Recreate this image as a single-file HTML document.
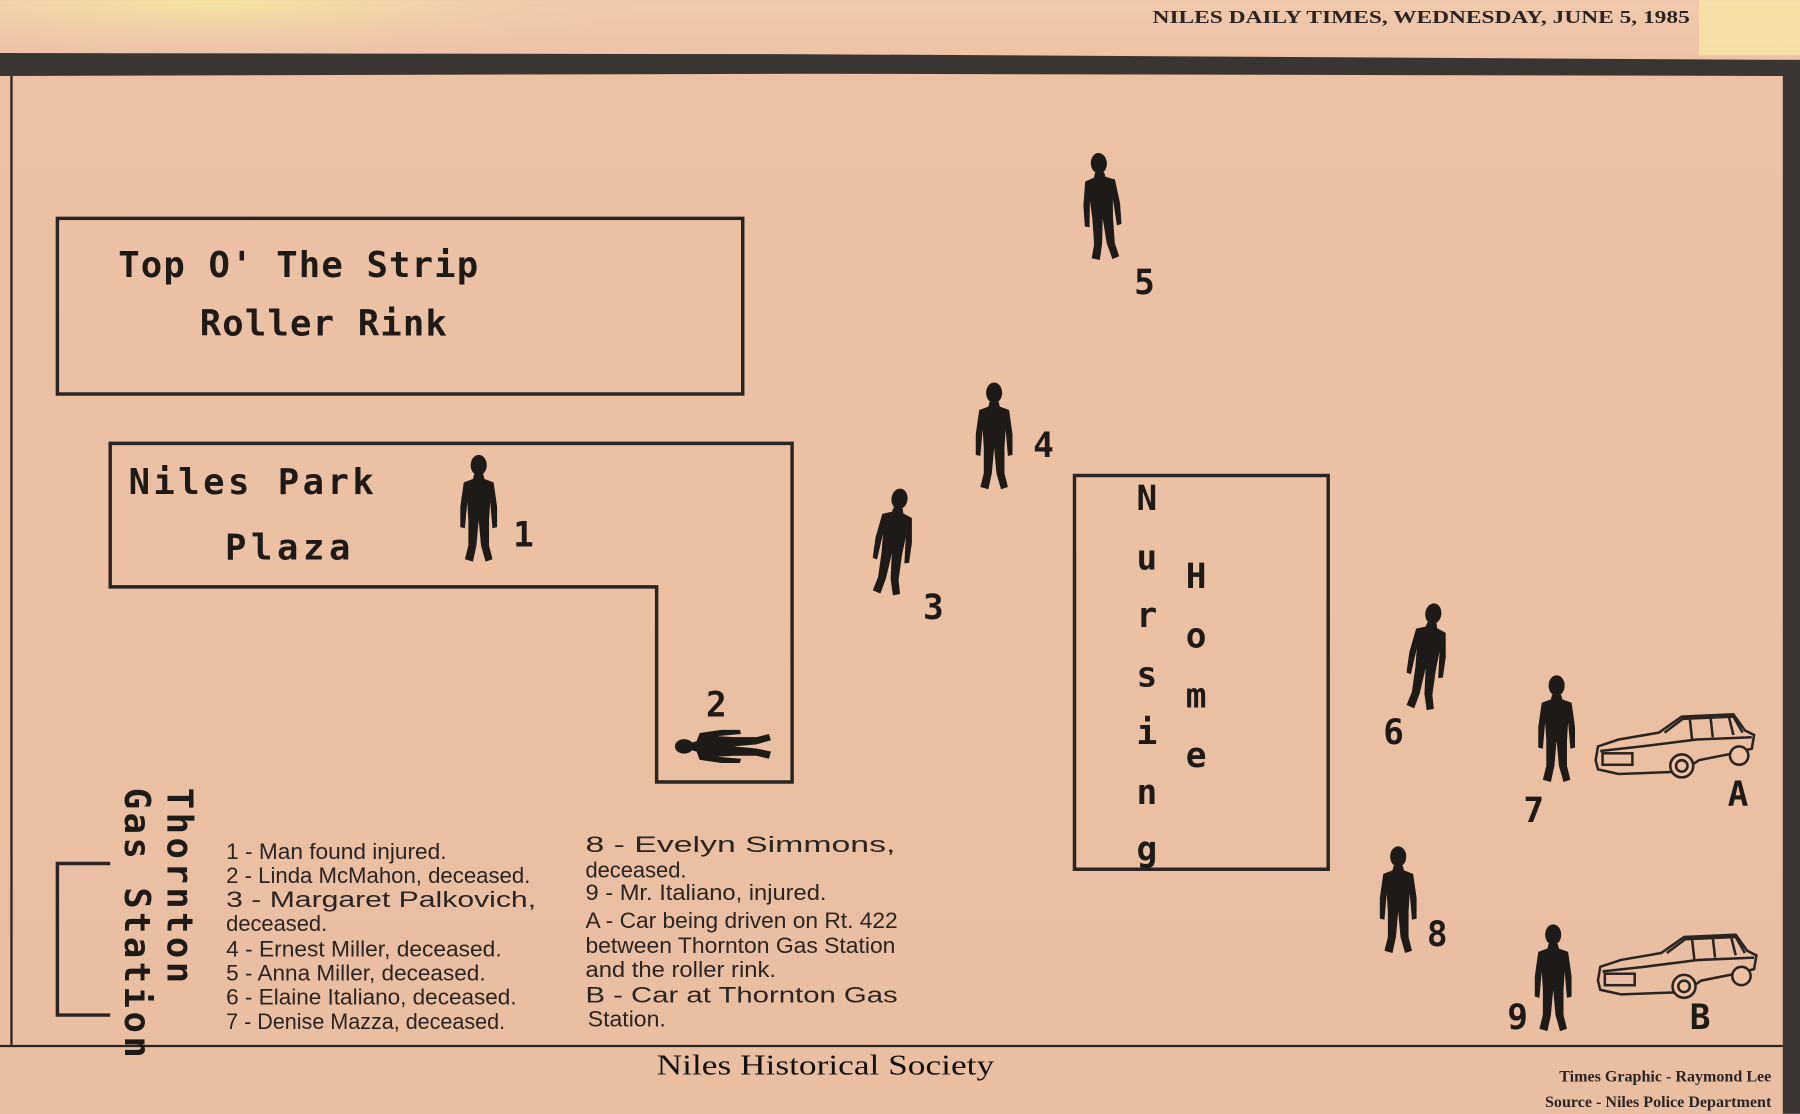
<!DOCTYPE html>
<html><head><meta charset="utf-8"><style>
html,body{margin:0;padding:0;width:1800px;height:1114px;overflow:hidden;background:#ecbfa2}
svg{display:block}
.m{font-family:"DejaVu Sans Mono","Liberation Mono",monospace;fill:#1e1a18;font-weight:bold}
.n{font-family:"Liberation Sans Narrow","Liberation Sans",sans-serif;fill:#2a2422;font-size:19px}
</style></head><body>
<svg width="1800" height="1114" viewBox="0 0 1568 970" xmlns="http://www.w3.org/2000/svg">
<defs>
<linearGradient id="bg" x1="0" y1="0" x2="0" y2="1">
<stop offset="0" stop-color="#f0c9ad"/><stop offset="0.06" stop-color="#edc1a4"/><stop offset="1" stop-color="#eabea1"/></linearGradient>
<radialGradient id="yl" cx="0.12" cy="0" r="0.25"><stop offset="0" stop-color="#f6e7a0"/><stop offset="1" stop-color="#f0c9ad" stop-opacity="0"/></radialGradient>
<g id="p">
<ellipse cx="0" cy="-40" rx="7" ry="9"/>
<path d="M-4,-32 L4,-32 L5,-28 L13,-25 L16,-4 L16,14 L12,15 L10,-8 L9,8 L9,30 L12,42 L6,44 L2,30 L0,8 L-2,30 L-5,44 L-12,42 L-9,30 L-9,8 L-10,-8 L-12,15 L-16,14 L-16,-4 L-13,-25 L-5,-28 Z"/>
</g>
<g id="car" fill="none" stroke="#2a2422" stroke-width="2.2">
<path d="M0,40 L2,28 L20,22 L55,16 L75,2 L120,0 L130,14 L138,18 L136,30 L120,34 L90,40 L75,50 L20,52 L2,48 Z"/>
<path d="M60,16 L76,4 L120,2 L128,16 M82,4 L84,22 M100,2 L102,20 M116,2 L120,18"/>
<path d="M4,32 L40,28 L88,22 L136,20"/>
<rect x="6" y="34" width="26" height="10"/>
<circle cx="75" cy="45" r="10" fill="#eec3a5"/><circle cx="75" cy="45" r="5"/>
<circle cx="125" cy="36" r="8" fill="#eec3a5"/>
</g>
</defs>
<rect width="1568" height="970" fill="url(#bg)"/>
<rect width="1568" height="200" fill="url(#yl)"/>
<rect x="1480" y="0" width="88" height="48" fill="#f7e6a8" opacity="0.8"/>
<text x="1472" y="20" text-anchor="end" font-family="Liberation Serif,serif" font-weight="bold" font-size="16" fill="#2a2422" textLength="468" lengthAdjust="spacingAndGlyphs">NILES DAILY TIMES, WEDNESDAY, JUNE 5, 1985</text>
<path d="M0,46 L700,47 L1568,52 L1568,66 L700,64 L0,66 Z" fill="#3a3532"/>
<rect x="1553" y="60" width="15" height="910" fill="#3a3532"/>
<line x1="10" y1="66" x2="10" y2="910" stroke="#2a2422" stroke-width="2"/>
<line x1="0" y1="911" x2="1553" y2="911" stroke="#2a2422" stroke-width="2"/>
<g fill="none" stroke="#2a2422" stroke-width="3">
<rect x="50" y="190" width="597" height="153"/>
<path d="M96,386 L690,386 L690,681 L572,681 L572,511 L96,511 Z"/>
<rect x="936" y="414" width="221" height="343"/>
<path d="M96,752 L50,752 L50,884 L96,884"/>
</g>
<text class="m" x="103" y="241" font-size="31" letter-spacing="1">Top O' The Strip</text>
<text class="m" x="174" y="292" font-size="31" letter-spacing="1">Roller Rink</text>
<text class="m" x="112" y="430" font-size="31" letter-spacing="3">Niles Park</text>
<text class="m" x="196" y="487" font-size="31" letter-spacing="4">Plaza</text>
<g class="m" font-size="30" text-anchor="middle">
<text x="999" y="444">N</text><text x="999" y="496">u</text><text x="999" y="546">r</text><text x="999" y="598">s</text><text x="999" y="648">i</text><text x="999" y="700">n</text><text x="999" y="750">g</text>
<text x="1042" y="512">H</text><text x="1042" y="564">o</text><text x="1042" y="616">m</text><text x="1042" y="668">e</text>
</g>
<g class="m" font-size="31" transform="translate(146,686) rotate(90)"><text x="0" y="0" letter-spacing="3">Thornton</text></g>
<g class="m" font-size="31" transform="translate(109,686) rotate(90)"><text x="0" y="0" letter-spacing="3">Gas Station</text></g>
<g fill="#1e1a18">
<use href="#p" transform="translate(417,445)"/>
<use href="#p" transform="translate(632,650) rotate(-90) scale(0.9)"/>
<use href="#p" transform="translate(778,474) rotate(8)"/>
<use href="#p" transform="translate(866,382)"/>
<use href="#p" transform="translate(960,182) rotate(-4)"/>
<use href="#p" transform="translate(1243,574) rotate(8)"/>
<use href="#p" transform="translate(1356,637)"/>
<use href="#p" transform="translate(1218,786)"/>
<use href="#p" transform="translate(1353,854)"/>
</g>
<g class="m" font-size="30">
<text x="447" y="476">1</text><text x="615" y="624">2</text><text x="804" y="539">3</text><text x="900" y="398">4</text><text x="988" y="256">5</text><text x="1205" y="648">6</text><text x="1327" y="716">7</text><text x="1243" y="824">8</text><text x="1313" y="896">9</text>
<text x="1505" y="702">A</text><text x="1472" y="896">B</text>
</g>
<use href="#car" transform="translate(1390,622)"/>
<use href="#car" transform="translate(1392,814)"/>
<g class="n" font-size="19px" lengthAdjust="spacingAndGlyphs">
<text x="197" y="748" textLength="192" lengthAdjust="spacingAndGlyphs">1 - Man found injured.</text>
<text x="197" y="769" textLength="265" lengthAdjust="spacingAndGlyphs">2 - Linda McMahon, deceased.</text>
<text x="197" y="790" textLength="270" lengthAdjust="spacingAndGlyphs">3  -  Margaret  Palkovich,</text>
<text x="197" y="811" textLength="88" lengthAdjust="spacingAndGlyphs">deceased.</text>
<text x="197" y="833" textLength="240" lengthAdjust="spacingAndGlyphs">4 - Ernest Miller, deceased.</text>
<text x="197" y="854" textLength="226" lengthAdjust="spacingAndGlyphs">5 - Anna Miller, deceased.</text>
<text x="197" y="875" textLength="253" lengthAdjust="spacingAndGlyphs">6 - Elaine Italiano, deceased.</text>
<text x="197" y="896" textLength="243" lengthAdjust="spacingAndGlyphs">7 - Denise Mazza, deceased.</text>
<text x="510" y="742" textLength="270" lengthAdjust="spacingAndGlyphs">8  -  Evelyn  Simmons,</text>
<text x="510" y="764" textLength="88" lengthAdjust="spacingAndGlyphs">deceased.</text>
<text x="510" y="784" textLength="210" lengthAdjust="spacingAndGlyphs">9 - Mr. Italiano, injured.</text>
<text x="510" y="808" textLength="272" lengthAdjust="spacingAndGlyphs">A - Car being driven on Rt. 422</text>
<text x="510" y="830" textLength="270" lengthAdjust="spacingAndGlyphs">between Thornton Gas Station</text>
<text x="510" y="851" textLength="166" lengthAdjust="spacingAndGlyphs">and the roller rink.</text>
<text x="510" y="873" textLength="272" lengthAdjust="spacingAndGlyphs">B  -  Car  at  Thornton  Gas</text>
<text x="512" y="894" textLength="68" lengthAdjust="spacingAndGlyphs">Station.</text>
</g>
<text x="572" y="936" font-family="Liberation Serif,serif" font-size="25" fill="#111" textLength="294" lengthAdjust="spacingAndGlyphs">Niles Historical Society</text>
<text x="1543" y="942" text-anchor="end" font-family="Liberation Serif,serif" font-weight="bold" font-size="14" fill="#2a2422">Times Graphic - Raymond Lee</text>
<text x="1543" y="964" text-anchor="end" font-family="Liberation Serif,serif" font-weight="bold" font-size="14" fill="#2a2422">Source - Niles Police Department</text>
</svg>
</body></html>
